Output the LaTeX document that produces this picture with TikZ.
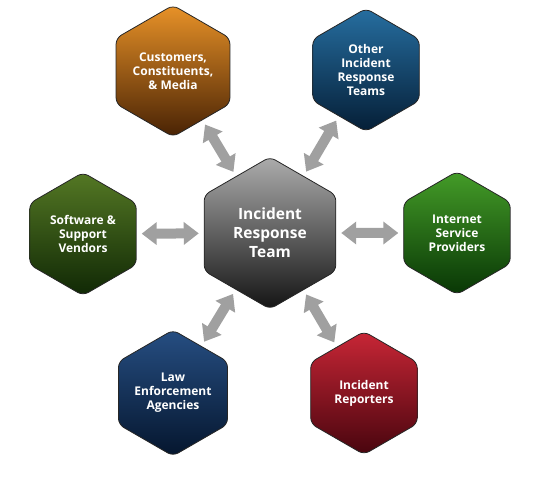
\documentclass[tikz,border=0pt]{standalone}
\usepackage{fontspec}
\setsansfont{Open Sans}
\usepackage{tikz}
\usetikzlibrary{arrows.meta,shapes.geometric}

\definecolor{orTop}{RGB}{232,146,40}
\definecolor{orMid}{RGB}{200,108,16}
\definecolor{orBot}{RGB}{72,34,4}
\definecolor{blTop}{RGB}{38,110,160}
\definecolor{blMid}{RGB}{20,82,128}
\definecolor{blBot}{RGB}{5,30,54}
\definecolor{gyTop}{RGB}{172,172,172}
\definecolor{gyMid}{RGB}{115,115,115}
\definecolor{gyBot}{RGB}{20,20,20}
\definecolor{olTop}{RGB}{84,120,36}
\definecolor{olMid}{RGB}{58,94,20}
\definecolor{olBot}{RGB}{16,40,5}
\definecolor{grTop}{RGB}{68,156,40}
\definecolor{grMid}{RGB}{42,124,24}
\definecolor{grBot}{RGB}{8,54,5}
\definecolor{nvTop}{RGB}{38,78,130}
\definecolor{nvMid}{RGB}{22,56,102}
\definecolor{nvBot}{RGB}{5,22,46}
\definecolor{rdTop}{RGB}{200,38,54}
\definecolor{rdMid}{RGB}{164,22,38}
\definecolor{rdBot}{RGB}{72,5,14}
\definecolor{linkgray}{RGB}{160,160,160}

\begin{document}
\begin{tikzpicture}[x=1pt, y=-1pt,
  hexa/.style={regular polygon, regular polygon sides=6, shape border rotate=30,
    minimum size=123pt, inner sep=0pt, rounded corners=6pt, draw=black!85,
    line width=0.8pt, align=center, text=white,
    font=\sffamily\bfseries\fontsize{12}{14}\selectfont},
  bighexa/.style={hexa, minimum size=152pt,
    font=\sffamily\bfseries\fontsize{15.5}{19}\selectfont},
  hexcol/.style={top color=#1Top, middle color=#1Mid, bottom color=#1Bot},
  link/.style={{Triangle[width=22pt,length=15pt]}-{Triangle[width=22pt,length=15pt]},
    line width=10pt, draw=linkgray, shorten >=5pt, shorten <=5pt}
]
\useasboundingbox (0,0) rectangle (536,479);

% team in the middle
\node[bighexa, hexcol=gy] (irt) at (270,233) {Incident\\Response\\Team};

% partners round it
\node[hexa, hexcol=or] (cust) at (173,71) {Customers,\\Constituents,\\\& Media};
\node[hexa, hexcol=bl] (other) at (366,70) {Other\\Incident\\Response\\Teams};
\node[hexa, hexcol=ol] (vend) at (83,234) {Software \&\\Support\\Vendors};
\node[hexa, hexcol=gr] (isp) at (457,233) {Internet\\Service\\Providers};
\node[hexa, hexcol=nv] (law) at (173,393) {Law\\Enforcement\\Agencies};
\node[hexa, hexcol=rd] (rep) at (364,393) {Incident\\Reporters};

\foreach \p in {cust,other,vend,isp,law,rep}
  \draw[link] (irt) -- (\p);
\end{tikzpicture}
\end{document}
